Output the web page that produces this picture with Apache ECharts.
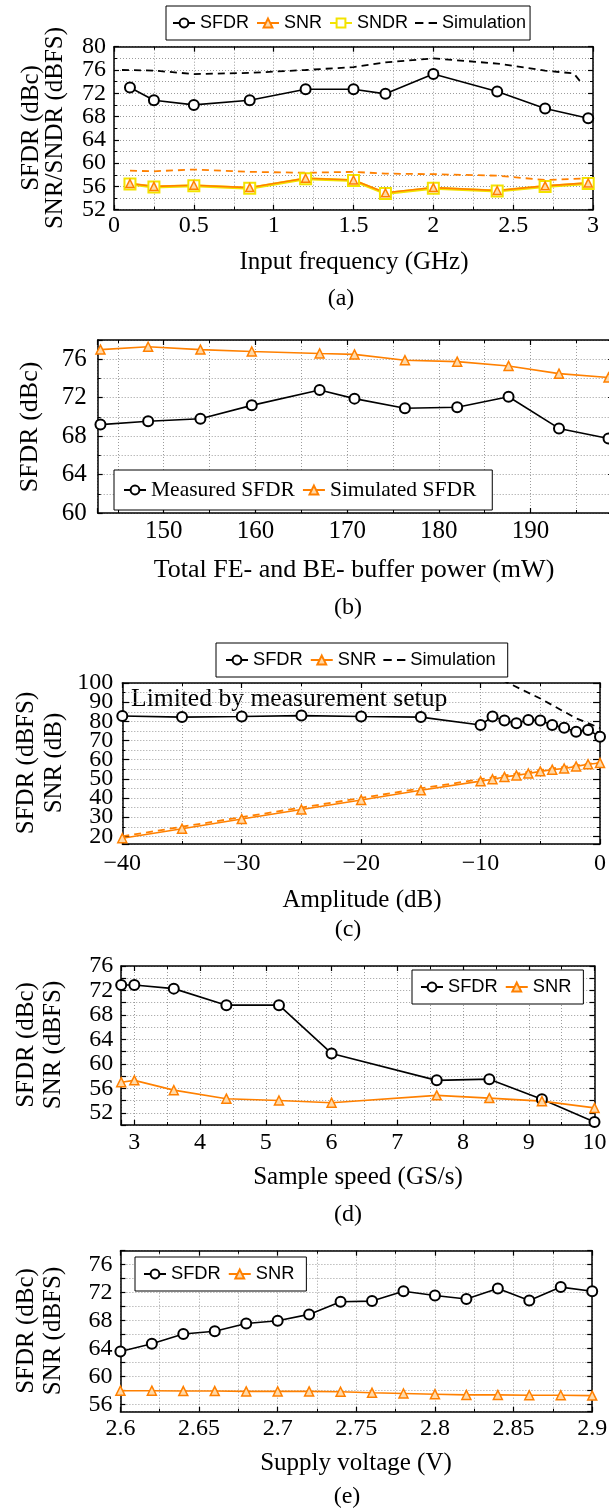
<!DOCTYPE html>
<html>
<head>
<meta charset="utf-8">
<script src="https://cdn.jsdelivr.net/npm/echarts@6/dist/echarts.min.js"></script>
<style>
  html, body { margin: 0; padding: 0; background: #fff; }
  #chart { width: 609px; height: 1509px; }
</style>
</head>
<body>
<div id="chart"></div>
<script>
// (a) input frequency sweep
const freqGHz = [0.1, 0.25, 0.5, 0.85, 1.2, 1.5, 1.7, 2.0, 2.4, 2.7, 2.97]
const freqSfdr = [73.0, 70.8, 70.0, 70.8, 72.7, 72.7, 71.9, 75.3, 72.3, 69.4, 67.7]
const freqSnr = [56.5, 56.0, 56.2, 55.8, 57.4, 57.1, 54.9, 55.8, 55.3, 56.1, 56.6]
const freqSndr = [56.4, 55.9, 56.1, 55.7, 57.3, 57.0, 54.8, 55.7, 55.2, 56.0, 56.5]
const freqSimSnr = [58.7, 58.6, 58.9, 58.5, 58.35, 58.5, 58.2, 58.1, 57.85, 57.1, 57.4]
const freqSimX = [0.05, 0.25, 0.5, 0.85, 1.2, 1.5, 1.7, 2.0, 2.4, 2.7, 2.88, 2.93]
const freqSimSfdr = [76.0, 75.9, 75.3, 75.5, 76.0, 76.5, 77.3, 78.0, 77.1, 75.9, 75.4, 73.7]

// (b) buffer power sweep
const powerMw = [143.1, 148.3, 154.0, 159.6, 167.0, 170.8, 176.3, 182.0, 187.6, 193.1, 198.5]
const powerMeasSfdr = [69.2, 69.55, 69.8, 71.2, 72.8, 71.9, 70.9, 71.0, 72.1, 68.8, 67.75]
const powerSimSfdr = [77.0, 77.3, 77.0, 76.8, 76.6, 76.5, 75.9, 75.75, 75.3, 74.5, 74.1]

// (c) amplitude sweep
const ampDb = [-40, -35, -30, -25, -20, -15, -10, -9, -8, -7, -6, -5, -4, -3, -2, -1, 0]
const ampSfdr = [82.8, 82.2, 82.5, 83.0, 82.5, 82.2, 78.1, 82.5, 80.4, 79.0, 80.7, 80.4, 78.1, 76.7, 74.6, 75.5, 72.0]
const ampSnr = [19.0, 24.0, 29.0, 34.0, 39.0, 44.0, 48.8, 49.8, 51.0, 51.8, 52.8, 53.9, 54.8, 55.4, 56.5, 57.6, 58.3]
const ampSimX = [-40, -35, -30, -25, -20, -15, -10, -5, 0]
const ampSimSnr = [20.0, 25.0, 30.0, 35.0, 40.0, 45.0, 49.8, 54.6, 58.6]
const ampSimSfdrX = [-10, -5, -2, 0]
const ampSimSfdr = [107.0, 91.9, 81.6, 76.5]

// (d) sample speed sweep
const speedGs = [2.8, 3.0, 3.6, 4.4, 5.2, 6.0, 7.6, 8.4, 9.2, 10.0]
const speedSfdr = [72.9, 72.9, 72.3, 69.6, 69.6, 61.7, 57.3, 57.5, 54.2, 50.5]
const speedSnr = [57.0, 57.3, 55.7, 54.3, 54.0, 53.65, 54.85, 54.4, 53.9, 52.8]

// (e) supply voltage sweep
const supplyV = [2.60, 2.62, 2.64, 2.66, 2.68, 2.70, 2.72, 2.74, 2.76, 2.78, 2.80, 2.82, 2.84, 2.86, 2.88, 2.90]
const supplySfdr = [63.6, 64.7, 66.1, 66.5, 67.6, 68.0, 68.9, 70.7, 70.8, 72.2, 71.6, 71.1, 72.6, 70.9, 72.8, 72.2]
const supplySnr = [58.0, 58.0, 57.95, 57.95, 57.9, 57.9, 57.9, 57.85, 57.7, 57.6, 57.5, 57.4, 57.4, 57.35, 57.35, 57.3]

const serif = '"Liberation Serif", "Times New Roman", serif'
const sans = '"Liberation Sans", Arial, sans-serif'
const BLACK = '#000'
const ORANGE = '#ff8000'
const YELLOW = '#f3e300'
const dotted = { color: '#9c9c9c', type: [1, 2], width: 1 }
// two short dashes, used as the legend key of the simulation curves
const DASH_ICON = 'path://M0,0h8v2h-8zM13,0h8v2h-8z'

const zip = (xs, ys) => xs.map((x, i) => [x, ys[i]])

function clean(o) {
  Object.keys(o).forEach(k => o[k] === undefined && delete o[k])
  return o
}

function labelStyle(cfg) {
  return clean({
    color: BLACK, fontFamily: serif, fontSize: cfg.font || 24, margin: cfg.margin,
    formatter: cfg.formatter, showMinLabel: cfg.showMin, showMaxLabel: cfg.showMax,
    hideOverlap: false
  })
}

// main axis + mirrored axis (ticks only) on the opposite side
function axisPair(grid, dim, cfg) {
  const main = clean({
    type: 'value', gridIndex: grid, position: dim === 'x' ? 'bottom' : 'left',
    min: cfg.min, max: cfg.max, interval: cfg.interval, splitNumber: cfg.splitNumber,
    axisLine: { onZero: false, lineStyle: { color: BLACK, width: 1.5 } },
    axisTick: { inside: true, length: cfg.tick || 5, lineStyle: { color: BLACK, width: 1.2 } },
    minorTick: { show: !!cfg.minor, splitNumber: cfg.minor || 2, length: 3, lineStyle: { color: BLACK, width: 1 } },
    splitLine: { show: true, lineStyle: dotted },
    minorSplitLine: { show: !!cfg.minor, lineStyle: dotted },
    axisLabel: labelStyle(cfg)
  })
  const mirror = Object.assign({}, main, {
    position: dim === 'x' ? 'top' : 'right',
    splitLine: { show: false }, minorSplitLine: { show: false }, axisLabel: { show: false }
  })
  return [main, mirror]
}

// The y labels of (a) and (c) sit closer together than their font height, and ECharts
// drops a label next to the end one. The end labels are put on an extra axis whose only
// ticks are min and max.
function endLabels(grid, cfg) {
  return {
    type: 'value', gridIndex: grid, position: 'left',
    min: cfg.min, max: cfg.max, interval: cfg.max - cfg.min,
    axisLine: { show: false }, axisTick: { show: false }, splitLine: { show: false },
    axisLabel: labelStyle(Object.assign({}, cfg, { showMin: true, showMax: true }))
  }
}

const grids = [
  { left: 114, top: 46.7, width: 479, height: 163 },
  { left: 97.7, top: 340, width: 515.4, height: 173 },
  { left: 122.3, top: 683, width: 477.7, height: 161 },
  { left: 121.2, top: 966, width: 473.3, height: 159 },
  { left: 120.4, top: 1250.7, width: 471.8, height: 161 }
].map(g => Object.assign({ outerBoundsMode: 'none', containLabel: false }, g))

const minus = v => v < 0 ? '\u2212' + Math.abs(v) : String(v)

const xAxes = [
  ...axisPair(0, 'x', { min: 0, max: 3, interval: 0.5, minor: 2, margin: 4, showMin: true, showMax: true }),
  ...axisPair(1, 'x', { min: 142.8, max: 199, splitNumber: 6, minor: 2, font: 25, margin: 6, showMin: false, showMax: false }),
  ...axisPair(2, 'x', { min: -40, max: 0, interval: 10, minor: 2, margin: 8, formatter: minus, showMin: true, showMax: true }),
  ...axisPair(3, 'x', { min: 2.8, max: 10, splitNumber: 7, minor: 2, margin: 6, showMin: false, showMax: true }),
  ...axisPair(4, 'x', { min: 2.6, max: 2.9, interval: 0.05, minor: 2, margin: 5, showMin: true, showMax: true })
]
const yAxes = [
  ...axisPair(0, 'y', { min: 52, max: 80, interval: 4, minor: 2, margin: 8, showMin: false, showMax: false }),
  ...axisPair(1, 'y', { min: 60, max: 78, interval: 4, minor: 2, font: 25, margin: 11, showMin: true, showMax: false }),
  ...axisPair(2, 'y', { min: 16, max: 100, splitNumber: 8, minor: 2, tick: 7, margin: 9, showMin: false, showMax: false }),
  ...axisPair(3, 'y', { min: 50, max: 76, interval: 2, margin: 8, showMin: true, showMax: true,
    formatter: v => (v - 52) % 4 === 0 ? String(v) : '' }),
  ...axisPair(4, 'y', { min: 55, max: 78, splitNumber: 12, margin: 8, showMin: false, showMax: true,
    formatter: v => v % 4 === 0 ? String(v) : '' }),
  endLabels(0, { min: 52, max: 80, margin: 8 }),
  endLabels(2, { min: 16, max: 100, margin: 9, formatter: v => v === 100 ? '100' : '' })
]

function marked(name, p, data, color, symbol, extra) {
  return Object.assign({
    name, type: 'line', xAxisIndex: 2 * p, yAxisIndex: 2 * p, data,
    symbol, symbolSize: 10, showAllSymbol: true,
    lineStyle: { color, width: 1.6 },
    itemStyle: { color, borderColor: color, borderWidth: 1.5 },
    emphasis: { disabled: true }
  }, extra || {})
}
function dashed(name, p, data, color) {
  return {
    name, type: 'line', xAxisIndex: 2 * p, yAxisIndex: 2 * p, data, symbol: 'none',
    lineStyle: { color, width: 1.8, type: [7, 5] }, itemStyle: { color },
    emphasis: { disabled: true }
  }
}
const triStyle = { color: '#ffd9a8', borderColor: ORANGE, borderWidth: 1.5 }

const series = [
  // (a)
  dashed('Simulation', 0, zip(freqSimX, freqSimSfdr), BLACK),
  dashed('SNR simulation', 0, zip(freqGHz, freqSimSnr), ORANGE),
  marked('SFDR', 0, zip(freqGHz, freqSfdr), BLACK, 'emptyCircle'),
  marked('SNDR', 0, zip(freqGHz, freqSndr), YELLOW, 'emptyRect', { lineStyle: { color: YELLOW, width: 3 }, symbolSize: 11 }),
  marked('SNR', 0, zip(freqGHz, freqSnr), ORANGE, 'triangle', { itemStyle: triStyle, symbolSize: 8 }),
  // (b)
  marked('Measured SFDR', 1, zip(powerMw, powerMeasSfdr), BLACK, 'emptyCircle'),
  marked('Simulated SFDR', 1, zip(powerMw, powerSimSfdr), ORANGE, 'triangle', { itemStyle: triStyle, symbolSize: 9 }),
  // (c)
  dashed('Simulation', 2, zip(ampSimSfdrX, ampSimSfdr), BLACK),
  dashed('SNR simulation', 2, zip(ampSimX, ampSimSnr), ORANGE),
  marked('SFDR', 2, zip(ampDb, ampSfdr), BLACK, 'emptyCircle'),
  marked('SNR', 2, zip(ampDb, ampSnr), ORANGE, 'triangle', { itemStyle: triStyle, symbolSize: 9 }),
  // (d)
  marked('SFDR', 3, zip(speedGs, speedSfdr), BLACK, 'emptyCircle'),
  marked('SNR', 3, zip(speedGs, speedSnr), ORANGE, 'triangle', { itemStyle: triStyle, symbolSize: 9 }),
  // (e)
  marked('SFDR', 4, zip(supplyV, supplySfdr), BLACK, 'emptyCircle'),
  marked('SNR', 4, zip(supplyV, supplySnr), ORANGE, 'triangle', { itemStyle: triStyle, symbolSize: 9 })
]

function legendBox(names, left, top, font, size, pad) {
  return {
    data: names.map(n => n === 'Simulation' ? { name: n, icon: DASH_ICON, itemStyle: { color: BLACK } } : n),
    left, top, orient: 'horizontal',
    itemWidth: 22, itemHeight: 11, itemGap: 7, padding: pad,
    backgroundColor: '#fff', borderColor: BLACK, borderWidth: 1, borderRadius: 0,
    selectedMode: false,
    textStyle: { fontFamily: font, fontSize: size, color: BLACK }
  }
}
const legends = [
  legendBox(['SFDR', 'SNR', 'SNDR', 'Simulation'], 166, 6, sans, 18, [8, 4, 8, 6]),
  legendBox(['Measured SFDR', 'Simulated SFDR'], 114, 470, serif, 21.5, [9, 16, 9, 9]),
  legendBox(['SFDR', 'SNR', 'Simulation'], 216, 643, sans, 18.3, [8, 12, 8, 9]),
  legendBox(['SFDR', 'SNR'], 412, 970, sans, 18.3, [8, 12, 8, 8]),
  legendBox(['SFDR', 'SNR'], 135, 1257, sans, 18.3, [8, 12, 8, 8])
]

function label(text, x, y, size, rotate, align) {
  return {
    type: 'text', x, y, rotation: rotate ? Math.PI / 2 : 0, silent: true,
    style: { text, fontFamily: serif, fontSize: size, fill: BLACK, align: align || 'center', verticalAlign: 'middle' }
  }
}
const texts = [
  // (a)
  label('SFDR (dBc)', 31, 128, 25, true),
  label('SNR/SNDR (dBFS)', 55, 128, 25, true),
  label('Input frequency (GHz)', 354, 262, 25),
  label('(a)', 341, 299, 24),
  // (b)
  label('SFDR (dBc)', 30, 427, 26, true),
  label('Total FE- and BE- buffer power (mW)', 354, 570, 26),
  label('(b)', 348, 608, 24),
  // (c)
  label('SFDR (dBFS)', 26, 763, 25, true),
  label('SNR (dB)', 54, 763, 25, true),
  label('Limited by measurement setup', 131, 699, 25.6, false, 'left'),
  label('Amplitude (dB)', 362, 900, 25),
  label('(c)', 348, 930, 24),
  // (d)
  label('SFDR (dBc)', 26, 1045, 25, true),
  label('SNR (dBFS)', 53, 1045, 25, true),
  label('Sample speed (GS/s)', 358, 1177, 25),
  label('(d)', 348, 1215, 24),
  // (e)
  label('SFDR (dBc)', 26, 1331, 25, true),
  label('SNR (dBFS)', 53, 1331, 25, true),
  label('Supply voltage (V)', 356, 1463, 25),
  label('(e)', 347, 1497, 24)
]

const chart = echarts.init(document.getElementById('chart'), null, { renderer: 'canvas' })
chart.setOption({
  animation: false,
  backgroundColor: '#fff',
  grid: grids,
  xAxis: xAxes,
  yAxis: yAxes,
  legend: legends,
  series,
  graphic: texts
})
</script>
</body>
</html>
